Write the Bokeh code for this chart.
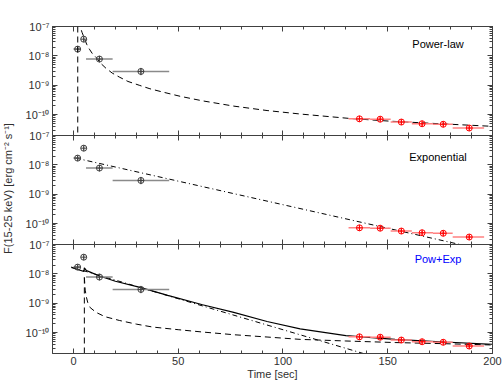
import math
from bokeh.plotting import figure
from bokeh.layouts import column, row
from bokeh.models import (Range1d, FixedTicker, LinearAxis, LogAxis,
                          CustomJSTickFormatter, Label, Span)
from bokeh.embed import file_html
from bokeh.resources import INLINE

FONT = "Liberation Sans"
AX = "#404040"
TXT = "#303030"

# ---------------- data ----------------
title_text = "051109A"
panel_names = ["Power-law", "Exponential", "Pow+Exp"]
x_ticks = [0, 50, 100, 150, 200]
y_ticks = [1e-10, 1e-9, 1e-8, 1e-7]

# early (BAT) points, black
bat_t = [2.0, 4.9, 12.4, 32.2]
bat_t_lo = [0.0, 4.9, 6.0, 18.7]
bat_t_hi = [3.6, 4.9, 18.7, 45.7]
bat_F = [1.7e-8, 3.7e-8, 7.8e-9, 2.95e-9]
bat_F_lo = [1.4e-8, 3.1e-8, 6.0e-9, 2.2e-9]
bat_F_hi = [2.0e-8, 4.3e-8, 1.0e-8, 3.9e-9]

# late (XRT) points, red
xrt_t = [136.5, 146.4, 156.5, 166.4, 176.5, 188.9]
xrt_t_lo = [131.3, 141.6, 151.4, 161.5, 171.6, 181.0]
xrt_t_hi = [141.6, 151.4, 161.5, 171.6, 181.0, 196.0]
xrt_F = [7.2e-11, 7.0e-11, 5.6e-11, 4.9e-11, 4.7e-11, 3.5e-11]
xrt_F_lo = [6.0e-11, 5.9e-11, 4.7e-11, 4.1e-11, 3.9e-11, 2.9e-11]
xrt_F_hi = [8.5e-11, 8.3e-11, 6.6e-11, 5.8e-11, 5.6e-11, 4.2e-11]

# top panel: power-law model (dashed)
pl_t0 = 2.05
pl_t = [2.8, 3.2, 4.1, 5.2, 6.3, 7.6, 9.0, 10.8, 13.0, 15.5, 18.5, 21.9, 26.0,
        31.4, 36.5, 42.5, 51.0, 61.6, 76.5, 92.4, 108.2, 132.0, 151.0, 170.0, 200.0]
pl_F = [1.6e-7, 1.0e-7, 6.3e-8, 4.0e-8, 2.5e-8, 1.7e-8, 1.2e-8, 8.9e-9, 5.6e-9,
        3.8e-9, 2.6e-9, 1.9e-9, 1.35e-9, 1.0e-9, 7.6e-10, 5.9e-10, 4.2e-10,
        2.95e-10, 1.95e-10, 1.38e-10, 1.05e-10, 7.4e-11, 6.0e-11, 5.1e-11, 4.0e-11]

# middle panel: exponential model (dash-dot)
ex_t = [1.1, 200.0]
ex_F = [1.7e-8, 1.1e-11]

# bottom panel: power-law component (dashed), exponential component (dash-dot), sum (solid)
pw_t0 = 5.2
pw_t = [5.2, 5.6, 6.2, 6.8, 8.0, 10.8, 15.0, 21.9, 30.0, 37.8, 50.0, 61.6, 76.5,
        92.4, 108.2, 130.0, 153.5, 177.3, 200.0]
pw_F = [7.6e-9, 2.8e-9, 1.6e-9, 1.07e-9, 7.1e-10, 4.9e-10, 3.5e-10, 2.6e-10,
        1.95e-10, 1.55e-10, 1.26e-10, 1.05e-10, 8.5e-11, 7.1e-11, 5.9e-11,
        5.2e-11, 4.6e-11, 4.2e-11, 3.8e-11]
ec_t = [-1.0, 140.0]
ec_F = [1.7e-8, 1.8e-11]
sum_t = [-1.0, 5.0, 5.2, 6.2, 8.0, 12.4, 20.0, 32.2, 45.0, 61.6, 76.5, 92.4,
         108.2, 130.0, 153.5, 177.3, 200.0]
sum_F = [1.66e-8, 1.2e-8, 1.6e-8, 1.3e-8, 1.15e-8, 8.5e-9, 5.6e-9, 3.4e-9,
         1.86e-9, 8.9e-10, 4.9e-10, 2.4e-10, 1.35e-10, 7.9e-11, 5.9e-11,
         4.8e-11, 4.0e-11]

X_START, X_END = -10, 200
Y_START, Y_END = 1.95e-11, 1.0e-7

x_minor = list(range(-10, 201, 10))
y_minor = [m * 10.0 ** e for e in range(-12, -6) for m in range(2, 10)]

sup_code = """
const sup = {"-": "\u207b", "0": "\u2070", "1": "\u00b9", "2": "\u00b2", "3": "\u00b3",
             "4": "\u2074", "5": "\u2075", "6": "\u2076", "7": "\u2077", "8": "\u2078", "9": "\u2079"};
const e = Math.round(Math.log10(tick));
return "10" + String(e).split("").map(c => sup[c]).join("");
"""


def base_style(ax):
    ax.axis_line_color = AX
    ax.major_tick_line_color = AX
    ax.minor_tick_line_color = AX
    ax.major_tick_in = 5
    ax.major_tick_out = 0
    ax.minor_tick_in = 3
    ax.minor_tick_out = 0
    ax.major_label_text_font = FONT
    ax.major_label_text_color = TXT
    ax.major_label_text_font_size = "11px"
    ax.major_label_standoff = 3


def tick_only(p, side, cls, majors, minors):
    # two label-free axes: short ticks at minor places, longer ticks at major places
    for pos, ln in ((minors, 3), (majors, 5)):
        ax = cls(ticker=FixedTicker(ticks=[], minor_ticks=pos))
        base_style(ax)
        ax.major_label_standoff = 0
        ax.minor_tick_in = ln
        p.add_layout(ax, side)


def make_panel(h, top, bottom, mtop, show_x):
    p = figure(width=486, height=h,
               x_range=Range1d(X_START, X_END), y_range=Range1d(Y_START, Y_END),
               y_axis_type="log", x_axis_location=None, y_axis_location=None,
               output_backend="svg", toolbar_location=None,
               min_border_left=36, min_border_right=10,
               min_border_top=top, min_border_bottom=bottom,
               border_fill_color=None, background_fill_color="white",
               outline_line_color=None)
    p.margin = (mtop, 0, 0, 0)
    p.grid.visible = False
    ya = LogAxis(ticker=FixedTicker(ticks=y_ticks, minor_ticks=y_minor),
                 formatter=CustomJSTickFormatter(code=sup_code))
    base_style(ya)
    p.add_layout(ya, "left")
    tick_only(p, "right", LogAxis, y_ticks, y_minor)
    tick_only(p, "above", LinearAxis, x_ticks, x_minor)
    if show_x:
        xa = LinearAxis(ticker=FixedTicker(ticks=x_ticks, minor_ticks=x_minor))
        base_style(xa)
        p.add_layout(xa, "below")
    else:
        tick_only(p, "below", LinearAxis, x_ticks, x_minor)
    return p


def add_points(p):
    p.segment(x0=bat_t_lo, y0=bat_F, x1=bat_t_hi, y1=bat_F, line_color="#8a8a8a", line_width=1.5)
    p.segment(x0=bat_t, y0=bat_F_lo, x1=bat_t, y1=bat_F_hi, line_color="#505050", line_width=1)
    p.scatter(bat_t, bat_F, marker="circle_cross", size=6, line_color="#404040",
              fill_color=None, line_width=1)
    p.segment(x0=xrt_t_lo, y0=xrt_F, x1=xrt_t_hi, y1=xrt_F, line_color="#ff8080", line_width=1.5)
    p.segment(x0=xrt_t, y0=xrt_F_lo, x1=xrt_t, y1=xrt_F_hi, line_color="red", line_width=1)
    p.scatter(xrt_t, xrt_F, marker="circle_cross", size=6, line_color="red",
              fill_color=None, line_width=1)


def panel_label(p, text, y, color="black"):
    p.add_layout(Label(x=174, y=y, text=text, text_align="center", text_baseline="middle",
                       text_font=FONT, text_font_size="11px", text_color=color))


# ---------------- panels ----------------
p1 = make_panel(135, 26, 0, 0, False)
p1.add_layout(Span(location=pl_t0, dimension="height", line_color="black",
                   line_width=1, line_dash="6 4"))
p1.line(pl_t, pl_F, line_color="black", line_width=1, line_dash="6 4")
add_points(p1)
panel_label(p1, panel_names[0], 2.6e-8)
p1.add_layout(Label(x=95, y=4.1e-7, text=title_text, text_align="center",
                    text_baseline="middle", text_font=FONT, text_font_size="11px",
                    text_color=TXT))

p2 = make_panel(117, 8, 0, -8, False)
p2.line(ex_t, ex_F, line_color="black", line_width=1, line_dash="5 3 1 3")
add_points(p2)
panel_label(p2, panel_names[1], 1.8e-8)

p3 = make_panel(146, 8, 29, -8, True)
p3.segment(x0=[pw_t0], y0=[Y_START], x1=[pw_t0], y1=[pw_F[0]], line_color="black",
           line_width=1, line_dash="6 4")
p3.line(pw_t, pw_F, line_color="black", line_width=1, line_dash="6 4")
p3.line(ec_t, ec_F, line_color="black", line_width=1, line_dash="5 3 1 3")
p3.line(sum_t, sum_F, line_color="black", line_width=1.2)
add_points(p3)
panel_label(p3, panel_names[2], 3.1e-8, color="blue")
xl = p3.below[0]
xl.axis_label = "Time [sec]"
xl.axis_label_standoff = 0
xl.axis_label_text_font = FONT
xl.axis_label_text_font_size = "11px"
xl.axis_label_text_font_style = "normal"
xl.axis_label_text_color = TXT

# y label strip
ylab = figure(width=16, height=382, x_range=Range1d(0, 16), y_range=Range1d(0, 382),
              x_axis_location=None, y_axis_location=None, output_backend="svg",
              toolbar_location=None, min_border=0, border_fill_color=None,
              background_fill_color=None, outline_line_color=None)
ylab.grid.visible = False
ylab.add_layout(Label(x=7.5, y=194, angle=math.pi / 2,
                      text="F(15-25 keV) [erg cm\u207b\u00b2 s\u207b\u00b9]",
                      text_align="center", text_baseline="middle", text_font=FONT,
                      text_font_size="11px", text_color=TXT))

layout = row(ylab, column(p1, p2, p3, spacing=0), spacing=0)

open("out.html", "w").write(file_html(layout, INLINE))
